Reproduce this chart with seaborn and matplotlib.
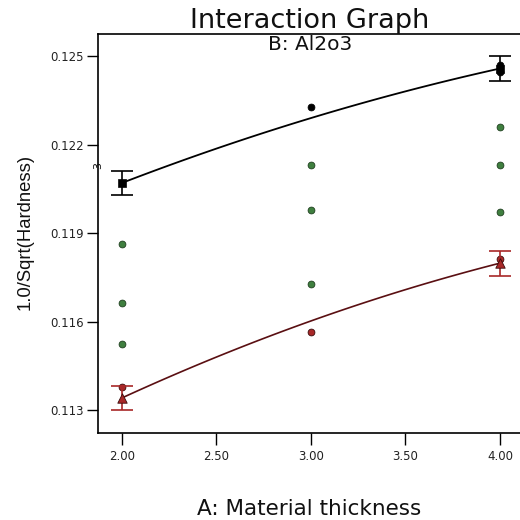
import numpy as np
import pandas as pd
import matplotlib
matplotlib.use("Agg")
import matplotlib.pyplot as plt
import seaborn as sns

# ---- data ----
x_levels = [2.0, 3.0, 4.0]
high_pred = [0.12070, 0.12290, 0.12458]   # B+ (black) model prediction
low_pred = [0.11341, 0.11602, 0.11798]    # B- (red) model prediction
lsd_x = [2.0, 4.0]
high_mean = [0.12070, 0.12458]
low_mean = [0.11341, 0.11798]
lsd_half = [0.00042, 0.00042]

black_x = [3.0, 4.0, 4.0]
black_y = [0.12327, 0.12445, 0.12470]
green_x = [2.0, 2.0, 2.0, 3.0, 3.0, 3.0, 4.0, 4.0, 4.0]
green_y = [0.11863, 0.11663, 0.11524, 0.12131, 0.11978, 0.11727, 0.12259, 0.12131, 0.11971]
red_x = [2.0, 3.0, 4.0]
red_y = [0.11378, 0.11564, 0.11812]

x_ticks = [2.0, 2.5, 3.0, 3.5, 4.0]
x_ticklabels = ["2.00", "2.50", "3.00", "3.50", "4.00"]
y_ticks = [0.113, 0.116, 0.119, 0.122, 0.125]
y_ticklabels = ["0.113", "0.116", "0.119", "0.122", "0.125"]

sns.set_theme(style="ticks")
plt.rcParams["font.family"] = ["DejaVu Sans"]

W = 520.0
fig = plt.figure(figsize=(5.2, 5.2), dpi=100)
ax = fig.add_axes([98 / W, 87 / W, 422 / W, 399 / W])

black = "#000000"
green = "#3f7f3f"
red = "#a82828"
dark_red = "#5a0f12"

# fitted curves
hi_df = pd.DataFrame({"x": x_levels, "y": high_pred})
lo_df = pd.DataFrame({"x": x_levels, "y": low_pred})
sns.regplot(data=hi_df, x="x", y="y", order=2, ci=None, scatter=False,
            line_kws={"color": black, "lw": 1.3}, ax=ax)
sns.regplot(data=lo_df, x="x", y="y", order=2, ci=None, scatter=False,
            line_kws={"color": dark_red, "lw": 1.2}, ax=ax)

# design points
sns.scatterplot(x=green_x, y=green_y, color=green, edgecolor="#1f3f1f",
                s=24, linewidth=0.6, ax=ax, zorder=3)
sns.scatterplot(x=red_x, y=red_y, color=red, edgecolor="#3a0a0a",
                s=24, linewidth=0.6, ax=ax, zorder=3)
sns.scatterplot(x=black_x, y=black_y, color=black, edgecolor=black,
                s=24, linewidth=0.6, ax=ax, zorder=3)

# LSD bars and mean markers
ax.errorbar(lsd_x, high_mean, yerr=lsd_half, fmt="none", ecolor=black,
            elinewidth=1.2, capsize=8, capthick=1.2, zorder=4)
ax.errorbar(lsd_x, low_mean, yerr=lsd_half, fmt="none", ecolor=red,
            elinewidth=1.2, capsize=8, capthick=1.2, zorder=4)
sns.scatterplot(x=lsd_x, y=high_mean, marker="s", color=black, edgecolor=black,
                s=36, ax=ax, zorder=5)
sns.scatterplot(x=lsd_x, y=low_mean, marker="^", color=red, edgecolor="#3a0a0a",
                s=46, linewidth=0.6, ax=ax, zorder=5)

ax.set_xlim(1.873, 4.106)
ax.set_ylim(0.11222, 0.12575)
ax.set_xticks(x_ticks)
ax.set_xticklabels(x_ticklabels, fontsize=8.5, color="#222222")
ax.set_yticks(y_ticks)
ax.set_yticklabels(y_ticklabels, fontsize=8.5, color="#222222")
ax.tick_params(axis="x", length=8.5, width=1, pad=3.5, color="black")
ax.tick_params(axis="y", length=8, width=1, pad=2, color="black")

for side in ["left", "bottom", "top"]:
    ax.spines[side].set_visible(True)
    ax.spines[side].set_color("black")
    ax.spines[side].set_linewidth(1.2)
ax.spines["right"].set_visible(False)

ax.set_xlabel("A: Material thickness", fontsize=15.5, color="#111111")
ax.xaxis.set_label_coords(309 / W, 5 / W, transform=fig.transFigure)
ax.xaxis.label.set_verticalalignment("baseline")

ax.set_ylabel("1.0/Sqrt(Hardness)", fontsize=13.3, color="#111111",
              family=["Liberation Sans", "DejaVu Sans"])
ax.yaxis.set_label_coords(25 / W, 1 - 232 / W, transform=fig.transFigure)
ax.yaxis.label.set_verticalalignment("center")

fig.text(310 / W, 1 - 50 / W, "B: Al2o3", ha="center", va="baseline",
         fontsize=14.5, color="#111111")
fig.text(309.5 / W, 1 - 28 / W, "Interaction Graph", ha="center", va="baseline",
         fontsize=19.5, color="#111111")
ax.text(0.0, 0.67, "3", transform=ax.transAxes, ha="center", va="center",
        fontsize=8, rotation=90, color="#111111")

ax.grid(False)
fig.savefig("out.png", dpi=100)
